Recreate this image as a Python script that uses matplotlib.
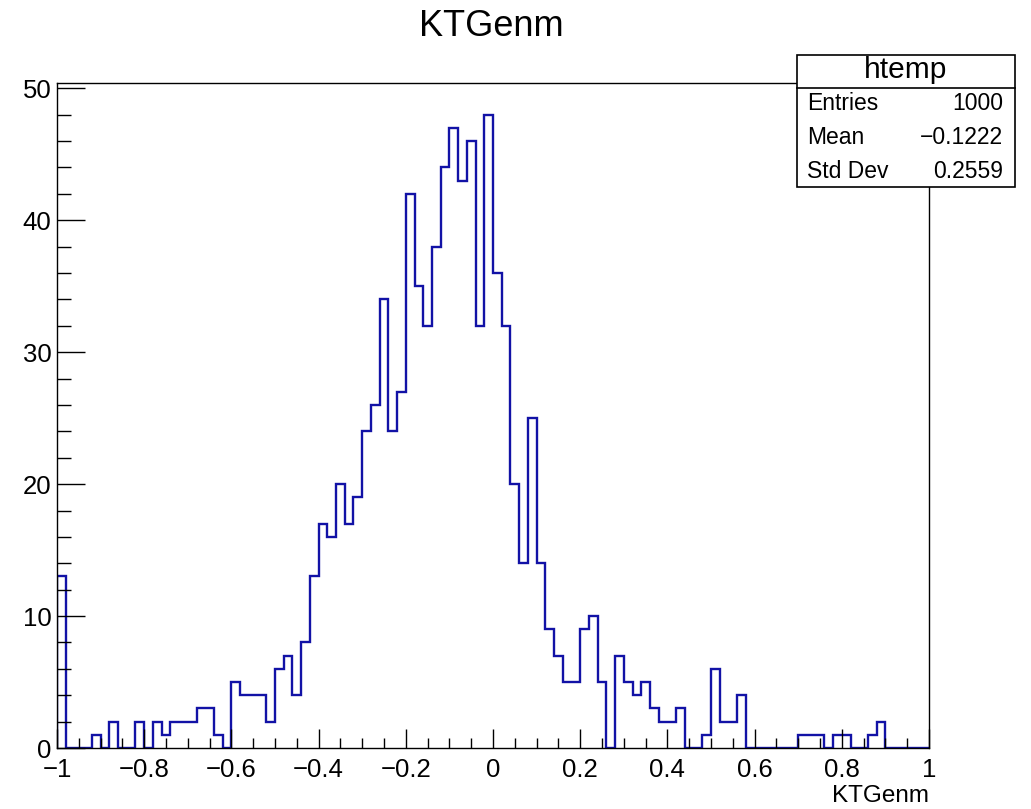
"""
ROOT-style histogram of KTGenm (htemp) with stats box.
"""

import numpy as np
import matplotlib.pyplot as plt
from matplotlib.patches import Rectangle
from matplotlib.ticker import MultipleLocator, FuncFormatter

# ── Data ──────────────────────────────────────────────────────────────
x_min, x_max, n_bins = -1.0, 1.0, 100
counts = [13, 0, 0, 0, 1, 0, 2, 0, 0, 2,
          0, 2, 1, 2, 2, 2, 3, 3, 1, 0,
          5, 4, 4, 4, 2, 6, 7, 4, 8, 13,
          17, 16, 20, 17, 19, 24, 26, 34, 24, 27,
          42, 35, 32, 38, 44, 47, 43, 46, 32, 48,
          36, 32, 20, 14, 25, 14, 9, 7, 5, 5,
          9, 10, 5, 0, 7, 5, 4, 5, 3, 2,
          2, 3, 0, 0, 1, 6, 2, 2, 4, 0,
          0, 0, 0, 0, 0, 1, 1, 1, 0, 1,
          1, 0, 0, 1, 2, 0, 0, 0, 0, 0]
stat_names = ["Entries", "Mean", "Std Dev"]
stat_values = ["1000", "\u22120.1222", "0.2559"]
hist_name = "htemp"
var_name = "KTGenm"

# ── Style ─────────────────────────────────────────────────────────────
C_LINE = "#1212a6"
C_TEXT = "black"
FONT = ["Liberation Sans", "DejaVu Sans"]
plt.rcParams["font.family"] = FONT

W, H = 1031, 809
fig = plt.figure(figsize=(W / 100, H / 100), dpi=100)

# frame in pixel units of the reference
L, R, B, T = 57, 929, 748, 83
ax = fig.add_axes([L / W, 1 - B / H, (R - L) / W, (B - T) / H])

edges = np.linspace(x_min, x_max, n_bins + 1)
ax.stairs(counts, edges, color=C_LINE, linewidth=1.7, baseline=0)

ax.set_xlim(x_min, x_max)
ax.set_ylim(0, max(counts) * 1.05)

# ── Axes / ticks ──────────────────────────────────────────────────────
def root_fmt(v, pos):
    s = f"{round(v, 6):g}"
    if s == "-0":
        s = "0"
    return s.replace("-", "\u2212")

ax.xaxis.set_major_locator(MultipleLocator(0.2))
ax.xaxis.set_minor_locator(MultipleLocator(0.05))
ax.yaxis.set_major_locator(MultipleLocator(10))
ax.yaxis.set_minor_locator(MultipleLocator(2))
ax.xaxis.set_major_formatter(FuncFormatter(root_fmt))
ax.yaxis.set_major_formatter(FuncFormatter(root_fmt))

ax.tick_params(which="both", direction="in", top=False, right=False,
               colors=C_TEXT, labelsize=18.5, width=1.0)
ax.tick_params(axis="x", which="major", length=14, pad=7)
ax.tick_params(axis="x", which="minor", length=7)
ax.tick_params(axis="y", which="major", length=20, pad=4)
ax.tick_params(axis="y", which="minor", length=10)
for sp in ax.spines.values():
    sp.set_linewidth(1.0)

# ── Titles ────────────────────────────────────────────────────────────
fig.text(491 / W, 1 - 27 / H, var_name, ha="center", va="center",
         fontsize=26, color=C_TEXT)
fig.text(R / W, 1 - 796 / H, var_name, ha="right", va="center",
         fontsize=17.5, color=C_TEXT)

# ── Stats box ─────────────────────────────────────────────────────────
bx0, bx1, by0, by1, bhead = 797, 1015, 55, 187, 88
fig.add_artist(Rectangle((bx0 / W, 1 - by1 / H), (bx1 - bx0) / W,
                         (by1 - by0) / H, transform=fig.transFigure,
                         facecolor="white", edgecolor="black",
                         linewidth=1.2, zorder=10))
fig.add_artist(plt.Line2D([bx0 / W, bx1 / W], [1 - bhead / H, 1 - bhead / H],
                          transform=fig.transFigure, color="black",
                          linewidth=1.2, zorder=11))
fig.text((bx0 + bx1) / 2 / W, 1 - 70 / H, hist_name, ha="center",
         va="center", fontsize=21.5, color=C_TEXT, zorder=12)
row_y = [104, 138, 172]
for name, val, yy in zip(stat_names, stat_values, row_y):
    fig.text(807 / W, 1 - yy / H, name, ha="left", va="center",
             fontsize=16.5, color=C_TEXT, zorder=12)
    fig.text(1003 / W, 1 - yy / H, val, ha="right", va="center",
             fontsize=16.5, color=C_TEXT, zorder=12)

fig.savefig("out.png", dpi=100, facecolor="white")
